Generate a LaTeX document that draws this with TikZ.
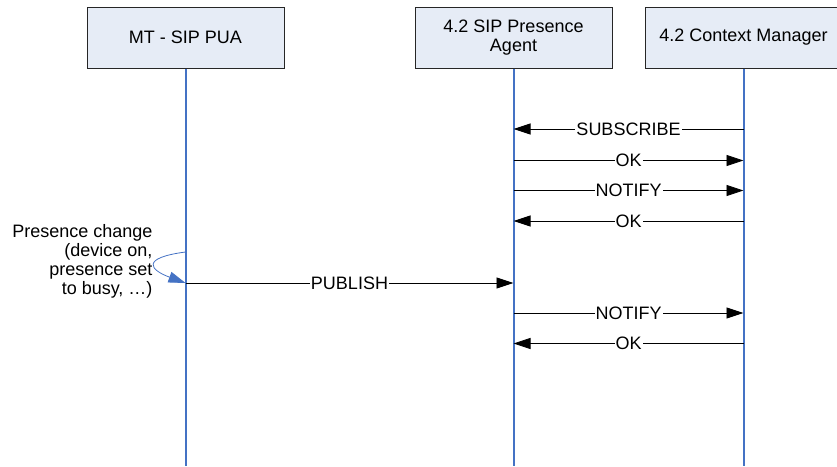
\documentclass[tikz,border=0pt]{standalone}
\usepackage{fontspec}
\setmainfont{Liberation Sans}
\usetikzlibrary{arrows.meta}
\definecolor{lifeblue}{HTML}{4472C4}
\definecolor{boxfill}{HTML}{E6ECF6}

\begin{document}
\begin{tikzpicture}[x=1pt, y=-1pt,
    every node/.style={font=\fontsize{18}{19.5}\selectfont},
    actor/.style={draw=black!85, fill=boxfill, line width=1pt, minimum width=197pt, minimum height=61pt, align=center, inner sep=0pt},
    life/.style={lifeblue, line width=2pt},
    msg/.style={black, line width=0.8pt, -{Triangle[length=17pt,width=11pt]}},
    lbl/.style={fill=white, inner sep=1pt}]
  \useasboundingbox (0,0) rectangle (837,466);
  % participants
  \node[actor] (pua) at (185.5,37.5) {MT - SIP PUA};
  \node[actor] (pa) at (513.5,37.5) {4.2 SIP Presence\\Agent};
  \node[actor] (cm) at (743.5,37.5) {4.2 Context Manager};
  % lifelines
  \foreach \who in {pua,pa,cm}
    \draw[life] (\who.south) -- (\who |- 0,466);
  % messages
  \foreach \y/\src/\dst/\txt in {129/cm/pa/SUBSCRIBE, 160.5/pa/cm/OK, 190.5/pa/cm/NOTIFY, 221/cm/pa/OK,
      283/pua/pa/PUBLISH, 313/pa/cm/NOTIFY, 343.5/cm/pa/OK}
    \draw[msg] (\src |- 0,\y) -- node[lbl]{\txt} (\dst |- 0,\y);
  % local event
  \node[align=right, anchor=east, font=\fontsize{18}{19}\selectfont] (change) at (156,261.5)
    {Presence change\\(device on,\\presence set\\to busy, …)};
  \draw[lifeblue, line width=0.8pt, -{Triangle[length=17pt,width=11pt]}]
    (pua |- 0,252) .. controls (140,258) and (150,270) .. (pua |- 0,283);
\end{tikzpicture}
\end{document}
